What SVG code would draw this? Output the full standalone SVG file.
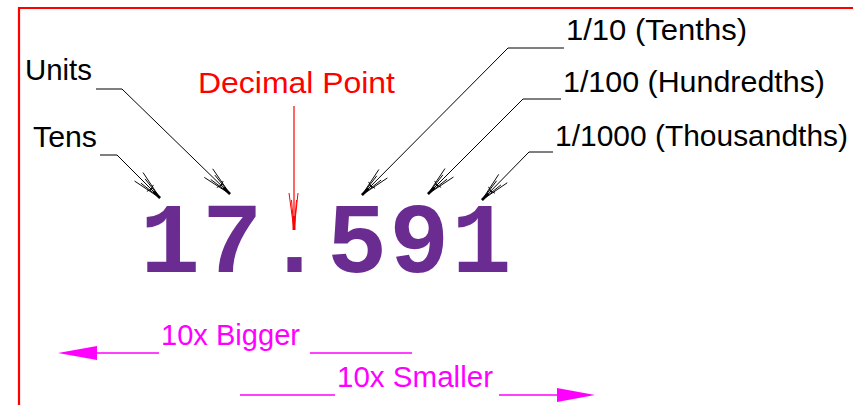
<svg xmlns="http://www.w3.org/2000/svg" width="853" height="405" viewBox="0 0 853 405">
<style>
.lbl{font-family:"Liberation Sans",Arial,sans-serif;font-size:30px;fill:#000}
.red{fill:#ff0000}
.mag{font-family:"Liberation Sans",Arial,sans-serif;font-size:30px;fill:#ff00ff}
.num{font-family:"Liberation Mono","Courier New",monospace;font-weight:bold;font-size:100px;letter-spacing:2.3px;fill:#6b2c91}
.lead{fill:none;stroke:#000;stroke-width:1}
.leadr{fill:none;stroke:#ff0000;stroke-width:1.2}
.magl{fill:none;stroke:#ff00ff;stroke-width:1.3}
</style>
<defs>
<marker id="fanK" markerUnits="userSpaceOnUse" viewBox="-32 -10 34 20" refX="0" refY="0" markerWidth="34" markerHeight="20" orient="auto" overflow="visible">
<g fill="none" stroke="#000" stroke-width="0.9">
<path d="M0,0 L-30,-6 M0,0 L-30,6 M0,0 L-24,-3 M0,0 L-24,3 M-14,-4.5 L-12,1 M-14,4.5 L-12,-1"/>
<path d="M0,0 L-9,0" stroke-width="2.6"/>
</g>
</marker>
<marker id="fanR" markerUnits="userSpaceOnUse" viewBox="-40 -10 42 20" refX="0" refY="0" markerWidth="42" markerHeight="20" orient="auto" overflow="visible">
<g fill="none" stroke="#ff0000" stroke-width="1">
<path d="M0,0 L-37,-4 M0,0 L-37,5 M0,0 L-30,-2.5 M0,0 L-30,2.5"/>
<path d="M0,0 L-14,0" stroke-width="3"/>
</g>
</marker>
</defs>

<g id="frame">
<path d="M19,405 V8 H853" fill="none" stroke="#ff0000" stroke-width="2.2"/>
</g>

<g id="number">
<text class="num" x="140" y="272">17.591</text>
</g>

<g id="label-units"><text class="lbl" x="25" y="80" textLength="67" lengthAdjust="spacingAndGlyphs">Units</text></g>
<g id="label-tens"><text class="lbl" x="33" y="147" textLength="64" lengthAdjust="spacingAndGlyphs">Tens</text></g>
<g id="label-decimal"><text class="lbl red" x="198" y="93" font-size="31" textLength="197" lengthAdjust="spacingAndGlyphs">Decimal Point</text></g>
<g id="label-tenths"><text class="lbl" x="566" y="40" textLength="181" lengthAdjust="spacingAndGlyphs">1/10 (Tenths)</text></g>
<g id="label-hundredths"><text class="lbl" x="563" y="92" textLength="262" lengthAdjust="spacingAndGlyphs">1/100 (Hundredths)</text></g>
<g id="label-thousandths"><text class="lbl" x="555" y="146" textLength="293" lengthAdjust="spacingAndGlyphs">1/1000 (Thousandths)</text></g>
<g id="label-bigger"><text class="mag" x="161" y="345" textLength="139" lengthAdjust="spacingAndGlyphs">10x Bigger</text></g>
<g id="label-smaller"><text class="mag" x="337" y="387" textLength="156" lengthAdjust="spacingAndGlyphs">10x Smaller</text></g>

<g id="connectors">
<path class="lead" d="M96,89 H122 L230,194" marker-end="url(#fanK)"/>
<path class="lead" d="M100,155 H117 L160,198" marker-end="url(#fanK)"/>
<path class="leadr" d="M294,106 V230" marker-end="url(#fanR)"/>
<path class="lead" d="M564,48 H508 L362,195" marker-end="url(#fanK)"/>
<path class="lead" d="M561,99 H523 L428,194" marker-end="url(#fanK)"/>
<path class="lead" d="M553,152 H529 L482,200" marker-end="url(#fanK)"/>
<path class="magl" d="M159,353 H97"/>
<path d="M58,353 L97,346 V360 Z" fill="#ff00ff"/>
<path class="magl" d="M310,353 H412"/>
<path class="magl" d="M240,395 H335"/>
<path class="magl" d="M499,395 H557"/>
<path d="M595,395 L557,388 V402 Z" fill="#ff00ff"/>
</g>
</svg>
